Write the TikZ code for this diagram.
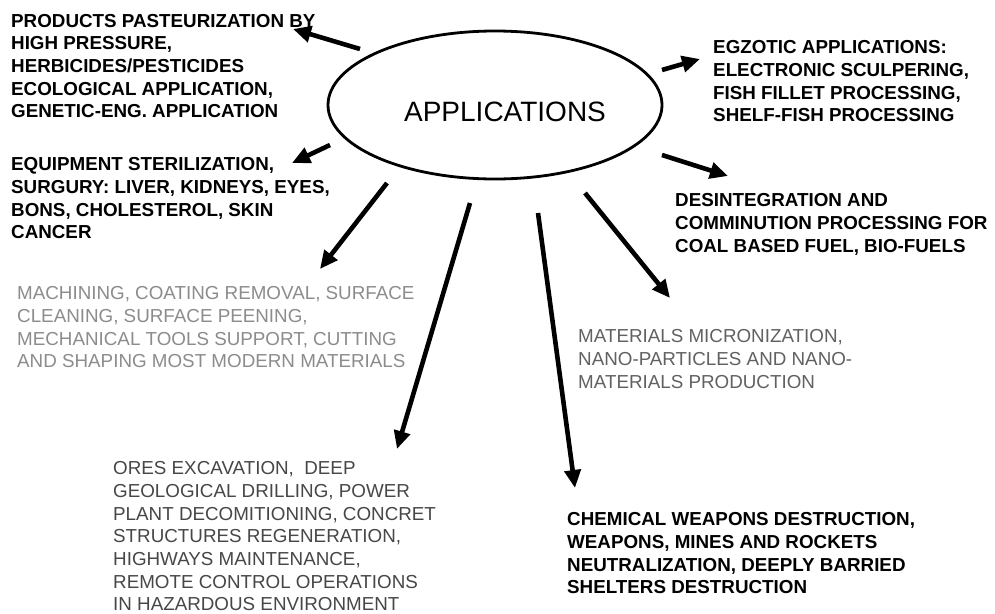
\documentclass[tikz,border=0pt]{standalone}
\usepackage{fontspec}
\setmainfont{Liberation Sans}
\usetikzlibrary{shapes.geometric,arrows.meta}

\definecolor{inklight}{gray}{0.55}
\definecolor{inkmid}{gray}{0.38}
\definecolor{inkdark}{gray}{0.28}

\tikzset{
  txt/.style={anchor=north west, inner sep=0pt, align=left,
              font=\fontsize{18.8}{22.7}\selectfont},
  txtbold/.style={txt, font=\fontsize{18.8}{22.7}\selectfont\bfseries},
  hub/.style={ellipse, draw, line width=2.8pt, inner sep=0pt,
              minimum width=334pt, minimum height=148pt},
  spoke/.style={line width=4.6pt,
                -{Triangle[length=18pt,width=16pt]}},
}

\begin{document}
\begin{tikzpicture}[x=1pt,y=-1pt]
  \useasboundingbox[fill=white] (0,0) rectangle (995,613);

  % central ellipse and its title
  \node[hub] (app) at (495,105) {};
  \node[inner sep=0pt, font=\fontsize{28}{30}\selectfont] (apptitle) at (505,112) {APPLICATIONS};

  % application groups
  \node[txtbold] (food) at (11,13.8) {PRODUCTS PASTEURIZATION BY\\HIGH PRESSURE,\\HERBICIDES/PESTICIDES\\ECOLOGICAL APPLICATION,\\GENETIC-ENG. APPLICATION};
  \node[txtbold] (medic) at (11,157.3) {EQUIPMENT STERILIZATION,\\SURGURY: LIVER, KIDNEYS, EYES,\\BONS, CHOLESTEROL, SKIN\\CANCER};
  \node[txtbold] (exotic) at (713,40.3) {EGZOTIC APPLICATIONS:\\ELECTRONIC SCULPERING,\\FISH FILLET PROCESSING,\\SHELF-FISH PROCESSING};
  \node[txtbold] (fuel) at (675,193.3) {DESINTEGRATION AND\\COMMINUTION PROCESSING FOR\\COAL BASED FUEL, BIO-FUELS};
  \node[txt, text=inklight] (machining) at (17,286.3) {MACHINING, COATING REMOVAL, SURFACE\\CLEANING, SURFACE PEENING,\\MECHANICAL TOOLS SUPPORT, CUTTING\\AND SHAPING MOST MODERN MATERIALS};
  \node[txt, text=inkmid] (nano) at (578,329.3) {MATERIALS MICRONIZATION,\\NANO-PARTICLES AND NANO-\\MATERIALS PRODUCTION};
  \node[txt, text=inkdark] (mining) at (113,461.3) {ORES EXCAVATION,\ \ DEEP\\GEOLOGICAL DRILLING, POWER\\PLANT DECOMITIONING, CONCRET\\STRUCTURES REGENERATION,\\HIGHWAYS MAINTENANCE,\\REMOTE CONTROL OPERATIONS\\IN HAZARDOUS ENVIRONMENT};
  \node[txtbold] (weapons) at (567,512.3) {CHEMICAL WEAPONS DESTRUCTION,\\WEAPONS, MINES AND ROCKETS\\NEUTRALIZATION, DEEPLY BARRIED\\SHELTERS DESTRUCTION};

  % spoke ends: tails next to the ellipse, heads at each group
  \coordinate (s1) at (360,49);  \coordinate (h1) at (293,29);
  \coordinate (s2) at (330,145); \coordinate (h2) at (292,163);
  \coordinate (s3) at (387,183); \coordinate (h3) at (320,269);
  \coordinate (s4) at (470,203); \coordinate (h4) at (397,449);
  \coordinate (s5) at (538,213); \coordinate (h5) at (575,488);
  \coordinate (s6) at (585,193); \coordinate (h6) at (670,298);
  \coordinate (s7) at (662,155); \coordinate (h7) at (728,176);
  \coordinate (s8) at (662,70);  \coordinate (h8) at (700,59);

  \draw[spoke] (s1) -- (h1);
  \draw[spoke] (s2) -- (h2);
  \draw[spoke] (s3) -- (h3);
  \draw[spoke] (s4) -- (h4);
  \draw[spoke] (s5) -- (h5);
  \draw[spoke] (s6) -- (h6);
  \draw[spoke] (s7) -- (h7);
  \draw[spoke] (s8) -- (h8);
\end{tikzpicture}
\end{document}
